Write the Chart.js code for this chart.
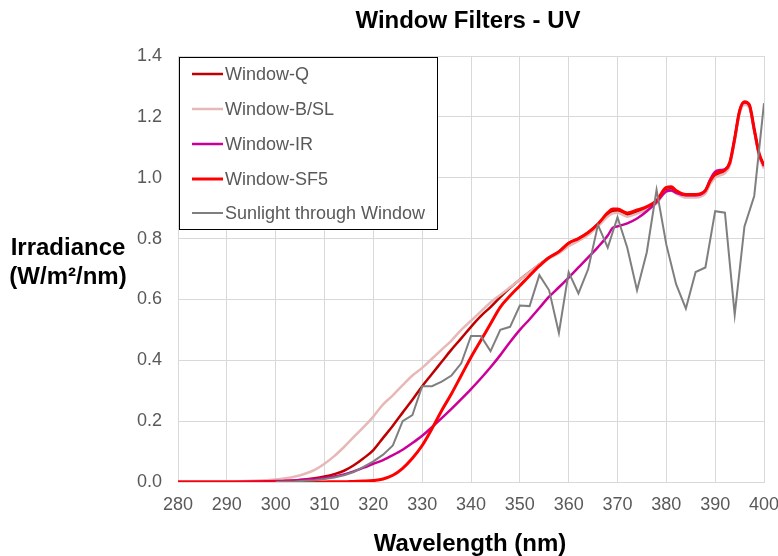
<!DOCTYPE html>
<html>
<head>
<meta charset="utf-8">
<script src="https://cdn.jsdelivr.net/npm/chart.js@4/dist/chart.umd.min.js"></script>
<style>
  html, body { margin: 0; padding: 0; background: #fff; }
  #wrap { width: 778px; height: 556px; position: relative; }
</style>
</head>
<body>
<div id="wrap"><canvas id="c" width="778" height="556"></canvas></div>
<script>
// ---- Data ----
const chartTitle = "Window Filters - UV";
const xTitle = "Wavelength (nm)";
const yTitleLines = ["Irradiance", "(W/m\u00B2/nm)"];
const seriesNames = ["Window-Q", "Window-B/SL", "Window-IR", "Window-SF5", "Sunlight through Window"];

const filterWavelengths = [280,290,300,302,304,306,308,310,312,314,316,318,320,322,324,326,328,330,332,334,336,338,340,342,344,346,348,350,352,354,356,358,360,362,364,366,368,369,370,372,374,376,378,380,381,382,384,386,388,389,390,391,392,393,394,395,396,397,398,399,400];

const windowQ = [0,0,0.002,0.004,0.005,0.008,0.012,0.018,0.026,0.037,0.055,0.078,0.105,0.145,0.185,0.228,0.27,0.315,0.355,0.395,0.435,0.472,0.51,0.545,0.575,0.608,0.638,0.665,0.69,0.715,0.738,0.757,0.785,0.8,0.82,0.848,0.88,0.89,0.89,0.878,0.888,0.9,0.92,0.96,0.962,0.952,0.94,0.94,0.952,0.985,1.005,1.012,1.02,1.045,1.125,1.215,1.245,1.235,1.155,1.075,1.035];

const windowBSL = [0,0.001,0.008,0.012,0.018,0.027,0.04,0.06,0.085,0.115,0.148,0.18,0.215,0.255,0.285,0.318,0.35,0.375,0.405,0.435,0.465,0.5,0.53,0.56,0.59,0.615,0.64,0.665,0.69,0.715,0.735,0.752,0.775,0.792,0.812,0.84,0.872,0.883,0.885,0.872,0.882,0.895,0.915,0.955,0.957,0.948,0.935,0.935,0.948,0.98,1.0,1.008,1.015,1.04,1.12,1.21,1.24,1.23,1.15,1.07,1.03];

const windowIR = [0,0,0.003,0.004,0.005,0.007,0.01,0.013,0.018,0.025,0.035,0.047,0.06,0.072,0.088,0.106,0.128,0.152,0.18,0.21,0.24,0.272,0.305,0.34,0.377,0.417,0.46,0.5,0.535,0.572,0.609,0.64,0.672,0.705,0.738,0.772,0.81,0.835,0.84,0.85,0.866,0.89,0.92,0.955,0.958,0.95,0.942,0.942,0.958,0.995,1.02,1.025,1.028,1.05,1.13,1.22,1.248,1.238,1.158,1.078,1.038];

const windowSF5 = [0,0,0,0,0,0,0,0,0.001,0.001,0.002,0.003,0.005,0.01,0.022,0.045,0.078,0.12,0.175,0.235,0.29,0.35,0.41,0.465,0.52,0.575,0.612,0.645,0.678,0.71,0.738,0.757,0.785,0.8,0.82,0.848,0.885,0.897,0.897,0.884,0.894,0.905,0.925,0.968,0.97,0.958,0.945,0.945,0.958,0.99,1.012,1.02,1.025,1.05,1.13,1.22,1.25,1.24,1.16,1.08,1.04];

const sunWavelengths = [300,302,304,306,308,310,312,314,316,318,320,322,324,326,328,330,332,334,336,338,340,342,344,346,348,350,352,354,356,358,360,362,364,366,368,370,372,374,376,378,380,382,384,386,388,390,392,394,396,398,400];
const sunlight = [0,0.001,0.002,0.004,0.006,0.01,0.015,0.022,0.033,0.05,0.068,0.09,0.12,0.2,0.22,0.315,0.315,0.33,0.35,0.39,0.48,0.48,0.43,0.5,0.51,0.58,0.578,0.68,0.63,0.49,0.69,0.62,0.7,0.845,0.77,0.87,0.77,0.63,0.755,0.96,0.78,0.65,0.57,0.69,0.705,0.89,0.885,0.55,0.84,0.94,1.245];

const xTicks = [280,290,300,310,320,330,340,350,360,370,380,390,400];
const yTicks = [0.0,0.2,0.4,0.6,0.8,1.0,1.2,1.4];

// ---- Build datasets ----
const pts = (xs, ys) => xs.map((x, i) => ({ x: x, y: ys[i] }));
const colors = ["#c00000", "#e6b9b8", "#cc0099", "#ff0000", "#7f7f7f"];
const widths = [2.5, 2.5, 2.5, 3, 2];
const seriesData = [
  pts(filterWavelengths, windowQ),
  pts(filterWavelengths, windowBSL),
  pts(filterWavelengths, windowIR),
  pts(filterWavelengths, windowSF5),
  pts(sunWavelengths, sunlight)
];
const datasets = seriesNames.map((name, i) => ({
  label: name,
  data: seriesData[i],
  borderColor: colors[i],
  backgroundColor: colors[i],
  borderWidth: widths[i],
  pointRadius: 0,
  fill: false,
  order: 4 - i,
  tension: 0,
  cubicInterpolationMode: i < 4 ? 'monotone' : 'default'
}));

const FONT = "'Liberation Sans', Arial, sans-serif";
const TEXT = "#595959";

const textPlugin = {
  id: 'texts',
  afterDraw(chart) {
    const ctx = chart.ctx;
    ctx.save();
    // Title
    ctx.fillStyle = "#000";
    ctx.font = "bold 24px " + FONT;
    ctx.textAlign = "center";
    ctx.textBaseline = "middle";
    ctx.fillText(chartTitle, 468, 21);
    // X title
    ctx.fillText(xTitle, 470, 544);
    // Y title
    ctx.fillText(yTitleLines[0], 68, 248);
    ctx.fillText(yTitleLines[1], 68, 277);

    // Legend box
    const bx = 179, by = 57, bw = 258, bh = 172;
    ctx.fillStyle = "#fff";
    ctx.fillRect(bx, by, bw, bh);
    ctx.strokeStyle = "#000";
    ctx.lineWidth = 1;
    ctx.strokeRect(bx + 0.5, by + 0.5, bw, bh);
    ctx.font = "18px " + FONT;
    ctx.textAlign = "left";
    ctx.textBaseline = "middle";
    const rowY = [74, 109, 144, 179, 213];
    chart.data.datasets.forEach((ds, i) => {
      const y = rowY[i];
      ctx.strokeStyle = ds.borderColor;
      ctx.lineWidth = ds.borderWidth;
      ctx.beginPath();
      ctx.moveTo(192, y);
      ctx.lineTo(223, y);
      ctx.stroke();
      ctx.fillStyle = TEXT;
      ctx.fillText(ds.label, 225, y + 1);
    });
    ctx.restore();
  }
};

new Chart(document.getElementById('c'), {
  type: 'line',
  data: { datasets: datasets },
  options: {
    responsive: false,
    animation: false,
    layout: { padding: { top: 56, right: 14, bottom: 0, left: 0 } },
    plugins: { legend: { display: false }, title: { display: false }, tooltip: { enabled: false } },
    scales: {
      x: {
        type: 'linear',
        min: 280, max: 400,
        afterBuildTicks: (s) => { s.ticks = xTicks.map(v => ({ value: v })); },
        afterFit: (s) => { s.height = 74; s.paddingRight = 0; s.paddingLeft = 0; },
        ticks: { color: TEXT, font: { size: 18, family: FONT }, padding: 12, maxRotation: 0, autoSkip: false },
        grid: { color: "#d9d9d9", lineWidth: 1, drawTicks: false },
        border: { color: "#d9d9d9" }
      },
      y: {
        type: 'linear',
        min: 0, max: 1.4,
        afterBuildTicks: (s) => { s.ticks = yTicks.map(v => ({ value: v })); },
        afterFit: (s) => { s.width = 178; s.paddingTop = 0; s.paddingBottom = 0; },
        ticks: { color: TEXT, font: { size: 18, family: FONT }, padding: 16, callback: (v) => Number(v).toFixed(1) },
        grid: { color: "#d9d9d9", lineWidth: 1, drawTicks: false },
        border: { display: false }
      }
    }
  },
  plugins: [textPlugin]
});
</script>
</body>
</html>
